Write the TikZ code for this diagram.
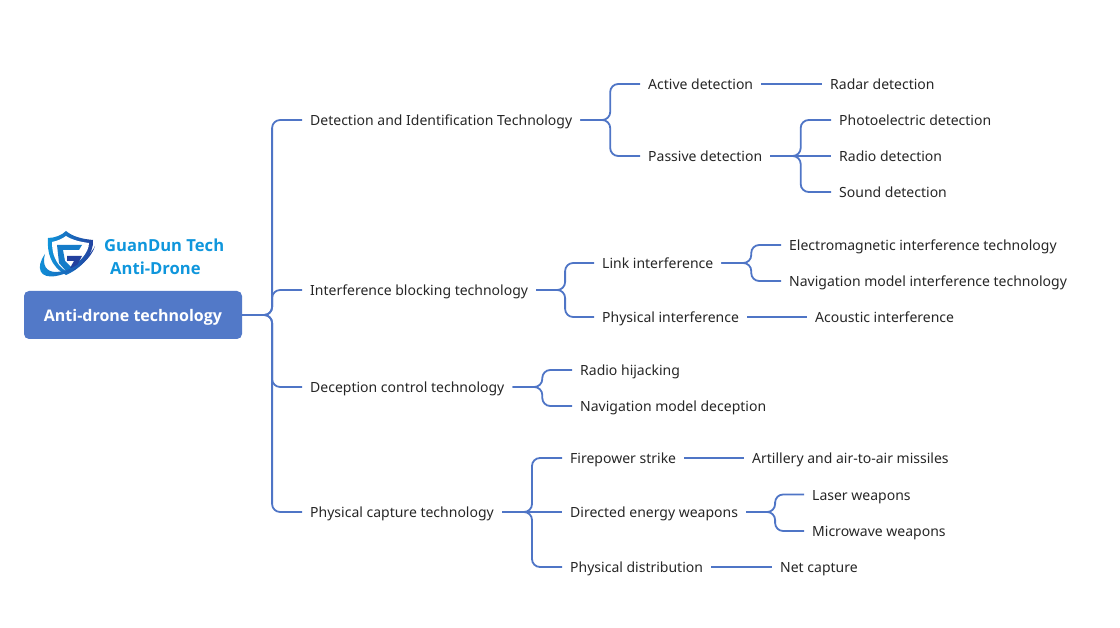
\documentclass[tikz,border=0pt]{standalone}
\usepackage{fontspec}
\setmainfont{Noto Sans}
\newfontfamily\heavyfont{Open Sans}
\usetikzlibrary{calc}
\definecolor{linkblue}{HTML}{4F75C6}
\definecolor{rootblue}{HTML}{5279C8}
\definecolor{logotext}{HTML}{0F96DC}
\definecolor{logodark}{HTML}{23409E}
\begin{document}
\begin{tikzpicture}[x=1pt,y=-1pt,
    topic/.style={anchor=west,inner xsep=8pt,inner ysep=0pt,text height=14pt,text depth=3pt,font=\fontsize{14}{16}\selectfont,text=black!85},
    root/.style={fill=rootblue,rounded corners=5pt,text=white,minimum width=218pt,minimum height=48pt,inner sep=0pt,text height=16pt,text depth=3pt,font=\heavyfont\fontsize{16}{18}\bfseries\selectfont},
    logoname/.style={anchor=west,inner sep=0pt,text=logotext,font=\heavyfont\fontsize{16.6}{18}\bfseries\selectfont},
    link/.style={draw=linkblue,line width=1.8pt},
    fork/.style={link,rounded corners=8pt,to path={let \p1=(\tikztostart),\p2=(\tikztotarget) in -- ({0.5*(\x1+\x2)},\y1) -- ({0.5*(\x1+\x2)},\y2) -- (\tikztotarget)}}]
    \useasboundingbox (0,0) rectangle (1120,628);

    % logo
    \shade[left color=logotext,right color=logodark] (66,231) .. controls (62,235) and (55,238) .. (48,238) .. controls (47,252) and (50,266) .. (66,275) .. controls (82,268) and (94,254) .. (93,240) .. controls (83,239) and (73,237) .. (66,231) -- cycle;
    \fill[white] (66,236) .. controls (62,239) and (57,241) .. (52,242) .. controls (52,253) and (55,264) .. (66,271) .. controls (78,264) and (89,253) .. (89,243) .. controls (81,242) and (72,240) .. (66,236) -- cycle;
    \fill[logotext!70!logodark] (57,245) -- (82,245) -- (79,250) -- (63,250) -- (65,261) -- (72,268) -- (66,271) -- (59,263) -- cycle;
    \fill[logodark] (67,256) -- (82,256) -- (75,270) -- (70,268) -- (74,261) -- (67,261) -- cycle;
    \shade[left color=logotext,right color=logodark] (45,254) .. controls (35,268) and (40,279) .. (56,276) .. controls (72,273) and (90,262) .. (95,246) .. controls (88,260) and (70,272) .. (56,272) .. controls (46,272) and (42,265) .. (45,254) -- cycle;
    \node[logoname] (brand) at (104,245) {GuanDun Tech};
    \node[logoname] (brandsub) at (110,268) {Anti-Drone};

    \node[root] (root) at (133,315) {Anti-drone technology};

    \foreach \name/\x/\y/\label in {
        detect/302/120/Detection and Identification Technology,
        block/302/290/Interference blocking technology,
        deceive/302/387/Deception control technology,
        capture/302/512/Physical capture technology,
        active/640/84/Active detection,
        passive/640/156/Passive detection,
        radar/822/84/Radar detection,
        photo/831/120/Photoelectric detection,
        radio/831/156/Radio detection,
        sound/831/192/Sound detection,
        linkint/594/263/Link interference,
        physint/594/317/Physical interference,
        emag/781/245/Electromagnetic interference technology,
        navint/781/281/Navigation model interference technology,
        acoustic/807/317/Acoustic interference,
        hijack/572/370/Radio hijacking,
        navdec/572/406/Navigation model deception,
        fire/562/458/Firepower strike,
        energy/562/512/Directed energy weapons,
        distrib/562/567/Physical distribution,
        missile/744/458/Artillery and air-to-air missiles,
        laser/804/494.5/Laser weapons,
        microwave/804/531/Microwave weapons,
        net/772/567/Net capture}{
        \node[topic] (\name) at (\x,\y) {\label};
    }

    \foreach \from/\to in {root/detect,root/block,root/deceive,root/capture,
        detect/active,detect/passive,passive/photo,passive/sound,
        block/linkint,block/physint,linkint/emag,linkint/navint,
        deceive/hijack,deceive/navdec,
        capture/fire,capture/distrib,energy/laser,energy/microwave}{
        \draw[fork] (\from.east) to (\to.west);
    }
    \foreach \from/\to in {active/radar,passive/radio,physint/acoustic,capture/energy,fire/missile,distrib/net}{
        \draw[link] (\from.east) -- (\to.west);
    }
\end{tikzpicture}
\end{document}
